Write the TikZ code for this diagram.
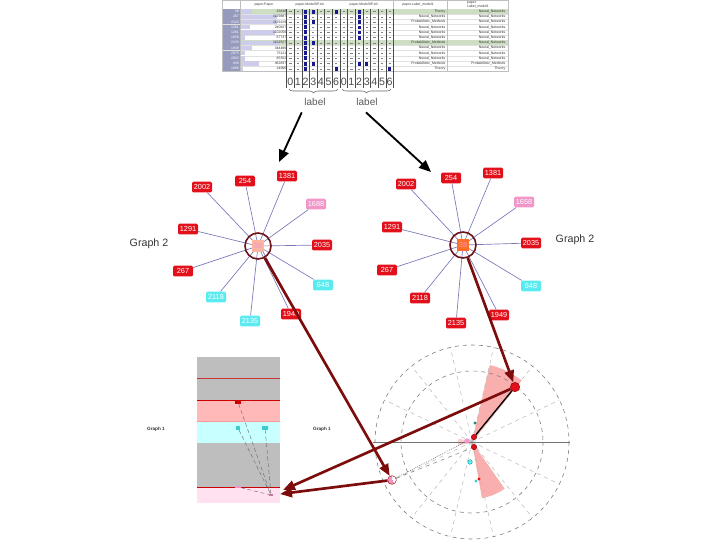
\documentclass[tikz,border=0pt]{standalone}
\usepackage{fontspec}
\setmainfont{Liberation Sans}
\usetikzlibrary{arrows.meta,decorations.pathreplacing,calc}
\definecolor{gred}{RGB}{226,16,26}
\definecolor{gpink}{RGB}{240,150,200}
\definecolor{gcyan}{RGB}{90,235,240}
\definecolor{edgecol}{RGB}{120,120,185}
\definecolor{ringcol}{RGB}{110,20,25}
\definecolor{arrowred}{RGB}{125,12,12}
\definecolor{bgray}{RGB}{190,190,190}
\definecolor{bpink}{RGB}{255,185,185}
\definecolor{bcyan}{RGB}{200,255,255}
\definecolor{blpink}{RGB}{255,225,240}
\definecolor{salmon}{RGB}{250,180,160}
\definecolor{orangec}{RGB}{255,110,40}
\definecolor{idxcol}{RGB}{150,155,190}
\definecolor{barcol}{RGB}{205,205,235}
\definecolor{greenrow}{RGB}{205,222,195}
\definecolor{navy}{RGB}{25,25,140}
\definecolor{wedge}{RGB}{250,175,175}
\begin{document}
\begin{tikzpicture}[x=0.75pt,y=-0.75pt,
  gn/.style={rectangle,rounded corners=1pt,inner sep=0.8pt,minimum width=15pt,minimum height=8pt,text=white,font=\fontsize{5.5}{6}\selectfont},
  rn/.style={gn,fill=gred},
  pn/.style={gn,fill=gpink},
  cn/.style={gn,fill=gcyan},
  gedge/.style={draw=edgecol,line width=0.5pt},
  ring/.style={circle,draw=ringcol,line width=1.2pt,minimum size=19.5pt,inner sep=0pt},
  bigarrow/.style={draw=arrowred,line width=2pt,-{Triangle[length=9pt,width=7pt]}},
  blackarrow/.style={draw=black,line width=1.4pt,-{Triangle[length=9pt,width=7.5pt]}},
  tiny/.style={font=\fontsize{2.6}{3}\selectfont,inner sep=0.3pt},
  glabel/.style={font=\fontsize{8}{9}\selectfont,text=black!80},
  digit/.style={font=\fontsize{8}{9}\selectfont,text=black!70,inner sep=0pt},
  dot/.style={circle,inner sep=0pt},
]
\useasboundingbox (0,0) rectangle (720,540);

% ---------------- table ----------------
\fill[white] (222,0) rectangle (508,72);
\foreach \i/\idx/\pp/\bw/\laba/\labb in {
 0/38/33818/0.25/Theory/Neural\_Networks,
 1/267/1129887/0.8/Neural\_Networks/Neural\_Networks,
 2/2123/1129129/0.8/Probabilistic\_Methods/Neural\_Networks,
 3/1281/240627/0.2/Neural\_Networks/Neural\_Networks,
 4/1281/1102056/0.75/Neural\_Networks/Neural\_Networks,
 5/1858/67737/0.1/Neural\_Networks/Neural\_Networks,
 6/2135/1152527/0.85/Probabilistic\_Methods/Neural\_Networks,
 7/1949/344486/0.25/Neural\_Networks/Neural\_Networks,
 8/2075/75121/0.1/Neural\_Networks/Neural\_Networks,
 9/2002/85352/0.1/Neural\_Networks/Neural\_Networks,
 10/648/462837/0.4/Probabilistic\_Methods/Probabilistic\_Methods,
 11/1688/24966/0.05/Theory/Theory}{
  \pgfmathsetmacro{\ya}{9+\i*5.2}
  \pgfmathsetmacro{\yb}{\ya+5.2}
  \pgfmathsetmacro{\ym}{\ya+2.6}
  \ifnum\i=0 \fill[greenrow] (240,\ya) rectangle (508,\yb); \fi
  \ifnum\i=6 \fill[greenrow] (240,\ya) rectangle (508,\yb); \fi
  \fill[idxcol!\ifodd\i 80\else 100\fi] (222,\ya) rectangle (240,\yb);
  \fill[barcol] (240.5,\ya+0.4) rectangle ({240.5+\bw*46},\yb-0.4);
  \node[tiny,anchor=east,text=white] at (239.5,\ym) {\idx};
  \node[tiny,anchor=east,text=black!80] at (287,\ym) {\pp};
  \node[tiny,anchor=east,text=black!80] at (446,\ym) {\laba};
  \node[tiny,anchor=east,text=black!80] at (506,\ym) {\labb};
  \draw[black!12,line width=0.2pt] (222,\yb) -- (508,\yb);
  \foreach \k in {0,...,6}{
    \draw[black!50,line width=0.3pt] ({286.5+\k*7.65+2.6},\ym) -- ({286.5+\k*7.65+5},\ym);
    \draw[black!50,line width=0.3pt] ({340+\k*7.65+2.6},\ym) -- ({340+\k*7.65+5},\ym);
  }
}
% blue blocks
\foreach \i in {0,...,11}{
  \fill[navy] ({286.5+2*7.65+2.4},{9+\i*5.2+0.6}) rectangle ({286.5+2*7.65+5.2},{9+\i*5.2+4.6});
}
\foreach \g/\c/\i in {286.5/3/0,286.5/3/2,286.5/3/6,286.5/3/10,286.5/6/0,286.5/6/11,
  340/2/0,340/2/1,340/2/2,340/2/3,340/2/4,340/2/5,340/2/10,340/3/10,340/6/11}{
  \fill[navy] ({\g+\c*7.65+2.4},{9+\i*5.2+1}) rectangle ({\g+\c*7.65+5.2},{9+\i*5.2+4.6});
}
% header
\fill[white] (222,0) rectangle (508,9);
\node[tiny,text=black!75] at (264,4.5) {paper.Paper};
\node[tiny,text=black!75] at (310,4.5) {paper.ModelSP.sfc};
\node[tiny,text=black!75] at (364,4.5) {paper.ModelSP.sfc};
\node[tiny,text=black!75] at (418,4.5) {paper.Label\_model1};
\node[tiny,text=black!75,align=left] at (478,4.5) {paper.\\Label\_model1};
\draw[black!25,line width=0.3pt] (222,0) rectangle (508,71.4);
\foreach \x in {240,393.5,447}{\draw[black!25,line width=0.3pt] (\x,0) -- (\x,71.4);}
% column separators and digits
\foreach \k in {0,...,7}{
  \draw[black!70,line width=0.4pt] ({286.5+\k*7.65},9) -- ({286.5+\k*7.65},88);
  \draw[black!70,line width=0.4pt] ({340+\k*7.65},9) -- ({340+\k*7.65},88);
}
\foreach \k in {0,...,6}{
  \node[digit] at ({286.5+\k*7.65+3.8},82) {\k};
  \node[digit] at ({340+\k*7.65+3.8},82) {\k};
}
\draw[black!60,line width=0.4pt,decorate,decoration={brace,amplitude=3pt}] (338,89) -- (289,89);
\draw[black!60,line width=0.4pt,decorate,decoration={brace,amplitude=3pt}] (391,89) -- (342,89);
\node[glabel,text=black!65,font=\fontsize{7.5}{8}\selectfont] (lab1) at (315,102) {label};
\node[glabel,text=black!65,font=\fontsize{7.5}{8}\selectfont] (lab2) at (367,102) {label};
\coordinate (ta1) at (279,162);
\coordinate (ta2) at (431,172);
\draw[blackarrow] (lab1.south west) ++(2,2) -- (ta1);
\draw[blackarrow] (lab2.south) ++(-1,2) -- (ta2);

% ---------------- left graph ----------------
\node[rn] (l2002) at (202,187) {2002};
\node[rn] (l254) at (245,181) {254};
\node[rn] (l1381) at (287,176) {1381};
\node[pn] (l1688) at (316,204) {1688};
\node[rn] (l2035) at (322,245) {2035};
\node[cn] (l648) at (323,285) {648};
\node[rn] (l1949) at (291,314) {1949};
\node[cn] (l2135) at (250,321) {2135};
\node[cn] (l2118) at (216,297) {2118};
\node[rn] (l267) at (183,271) {267};
\node[rn] (l1291) at (188,229) {1291};
\coordinate (lc) at (258,246);
\foreach \n in {l2002,l254,l1381,l1688,l2035,l648,l1949,l2135,l2118,l267,l1291}
  \draw[gedge] (lc) -- (\n);
\draw[gedge] ($(lc)+(3,2)$) -- ($(l1949.north)+(3,0)$);
\node[rectangle,fill=salmon,minimum size=9pt,inner sep=0pt,text=gpink,font=\fontsize{5.5}{6}\selectfont] (c1) at (lc) {38};
\node[ring] (r1) at (lc) {};
\node[glabel] (g2a) at (149,244) {Graph 2};

% ---------------- right graph ----------------
\node[rn] (r2002) at (406,184) {2002};
\node[rn] (r254) at (451,178) {254};
\node[rn] (r1381) at (493,173) {1381};
\node[pn] (r1658) at (524,202) {1658};
\node[rn] (r2035) at (531,243) {2035};
\node[cn] (r648) at (531,286) {648};
\node[rn] (r1949) at (499,315) {1949};
\node[rn] (r2135) at (456,323) {2135};
\node[rn] (r2118) at (420,298) {2118};
\node[rn] (r267) at (387,270) {267};
\node[rn] (r1291) at (392,227) {1291};
\coordinate (rc) at (463,245);
\foreach \n in {r2002,r254,r1381,r1658,r2035,r648,r1949,r2135,r2118,r267,r1291}
  \draw[gedge] (rc) -- (\n);
\node[rectangle,fill=orangec,minimum size=9pt,inner sep=0pt,text=gpink,font=\fontsize{5.5}{6}\selectfont] (c2) at (rc) {38};
\node[ring] (r2) at (rc) {};
\node[glabel] (g2b) at (575,240) {Graph 2};

% ---------------- left chart ----------------
\fill[bgray] (197,357) rectangle (280,400);
\fill[bpink] (197,400) rectangle (280,421);
\fill[bcyan] (197,421) rectangle (280,443);
\fill[bgray] (197,443) rectangle (280,487);
\fill[blpink] (197,487) rectangle (280,503);
\draw[red!75!black!80,line width=0.5pt] (197,378) -- (280,378);
\draw[red!80!black,line width=0.6pt] (197,400) -- (280,400);
\draw[red!40,line width=0.5pt] (197,421) -- (280,421);
\draw[red!80!black,line width=0.6pt] (197,487) -- (280,487);
\node[rectangle,fill=red!80!black,minimum width=5pt,minimum height=2.5pt,inner sep=0pt] (n1) at (238,402) {};
\node[rectangle,fill=gcyan!70!teal,minimum width=3pt,minimum height=2.5pt,inner sep=0pt] (n2) at (238,428) {};
\node[rectangle,fill=gcyan!70!teal,minimum width=4pt,minimum height=2.5pt,inner sep=0pt] (n3) at (265,428) {};
\node[rectangle,fill=gpink,minimum width=4pt,minimum height=2pt,inner sep=0pt] (n4) at (238,487) {};
\node[rectangle,fill=gpink!80!black,minimum width=2.5pt,minimum height=2pt,inner sep=0pt] (n5) at (271,495) {};
\foreach \n in {n1,n2,n3,n4}
  \draw[black!60,densely dashed,line width=0.3pt] (\n) -- (n5);
\node[font=\bfseries\fontsize{3.5}{4}\selectfont,text=black!80] (g1a) at (156,429) {Graph 1};
\node[font=\bfseries\fontsize{3.5}{4}\selectfont,text=black!80] (g1b) at (322,429) {Graph 1};

% ---------------- polar plot ----------------
\coordinate (P) at (472,442);
\fill[wedge] (P) -- ++(-51:79) arc[start angle=-51,end angle=-77,radius=79] -- cycle;
\fill[wedge] (P) -- ++(55:57) arc[start angle=55,end angle=80,radius=57] -- cycle;
\fill[wedge!60] (P) -- ++(-165:14) arc[start angle=-165,end angle=-195,radius=14] -- cycle;
\foreach \k in {0,...,13}
  \draw[black!30,dashed,line width=0.35pt] (P) -- ++({\k*360/14}:97);
\draw[black!50,dashed,line width=0.45pt] (P) circle[radius=97];
\draw[black!50,dashed,line width=0.45pt] (P) circle[radius=71];
\draw[black!55,line width=0.5pt] (373,442) -- (570,442);
\node[dot,fill=gred,draw=red!60!black,minimum size=7pt] (rd) at (515,387) {};
\node[dot,fill=gred,draw=red!60!black,minimum size=4pt] (ca) at (474,437) {};
\node[dot,fill=gred,draw=red!60!black,minimum size=4pt] (cb) at (474,447) {};
\node[dot,fill=gpink,minimum size=4pt] (pk) at (467,441) {};
\node[dot,fill=teal!60!gray,minimum size=2.5pt] (gt) at (475,423) {};
\node[dot,fill=gcyan,draw=teal,line width=0.2pt,minimum size=3.5pt] (cy) at (470,462) {};
\node[dot,fill=gred,minimum size=2.5pt] (cl1) at (479,479) {};
\node[dot,fill=gcyan!70!teal,minimum size=2.5pt] (cl2) at (476,481) {};
\draw[black,line width=1pt] (ca) -- (rd);
\fill[gcyan] (392,480) -- ++(-90:4.3) arc[start angle=-90,end angle=-200,radius=4.3] -- cycle;
\fill[gred] (392,480) -- ++(-200:4.3) arc[start angle=-200,end angle=-300,radius=4.3] -- cycle;
\fill[gpink] (392,480) -- ++(60:4.3) arc[start angle=60,end angle=270,radius=4.3] -- cycle;
\node[dot,draw=red!60!black,line width=0.3pt,minimum size=6.5pt] (pie) at (392,480) {};
\draw[black!60,densely dotted,line width=0.5pt] (pie) -- (pk);
\draw[black!50,dashed,line width=0.4pt] (pie) -- (cb);

% ---------------- big arrows ----------------
\coordinate (t1) at (283,490);
\coordinate (t2) at (280,494);
\draw[bigarrow] (r1) -- (pie);
\draw[bigarrow] (r2) -- (rd);
\draw[bigarrow] (rd) -- (t1);
\draw[bigarrow] (pie) -- (t2);
\end{tikzpicture}
\end{document}
